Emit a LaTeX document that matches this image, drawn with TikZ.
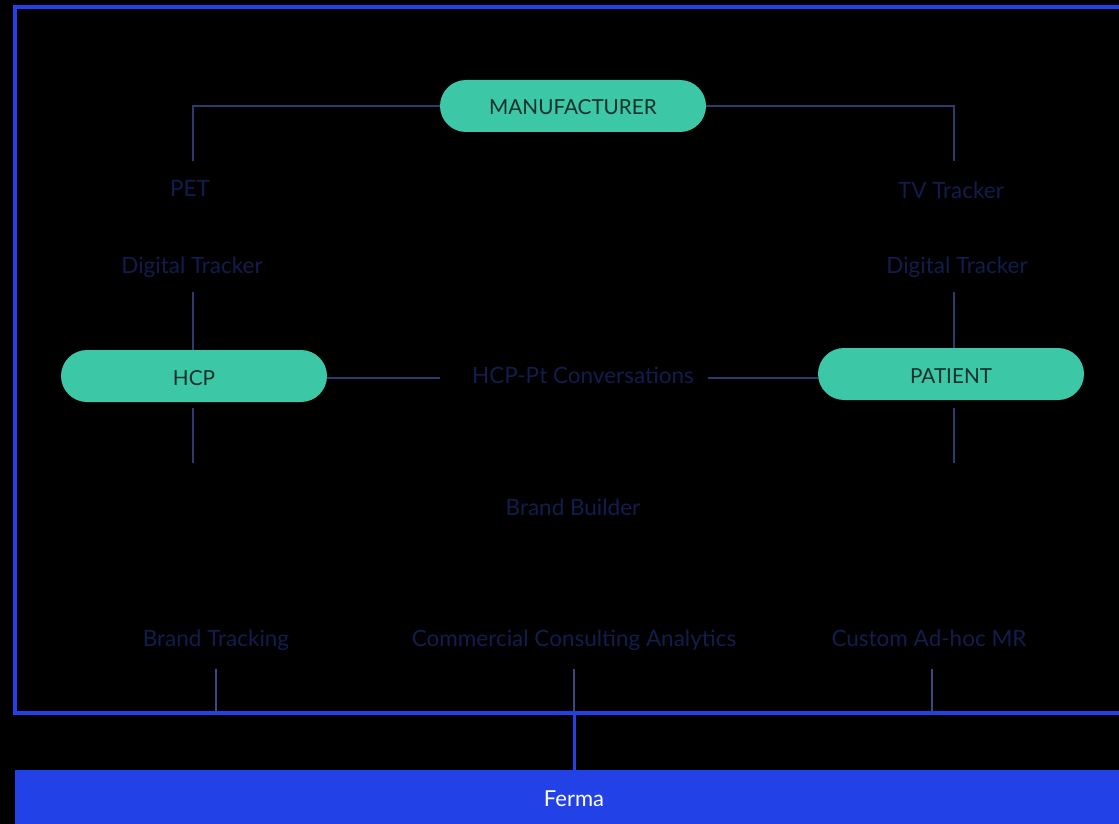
\documentclass[tikz,border=0pt]{standalone}
\usepackage{fontspec}
\setmainfont{Lato}
\usetikzlibrary{positioning}
\definecolor{pillgreen}{HTML}{3CC7A7}
\definecolor{frameblue}{HTML}{2242E8}
\definecolor{linknavy}{HTML}{2C3A6E}
\definecolor{footnavy}{HTML}{3A4780}
\definecolor{labelnavy}{HTML}{111D4D}
\definecolor{pilltext}{HTML}{15302A}

\begin{document}
\begin{tikzpicture}[x = 1pt, y = -1pt,
  pill/.style = {fill = pillgreen, rounded corners = 26pt, minimum width = 266pt, minimum height = 52pt, text height = 21pt, text depth = 3pt, font = \fontsize{20.7}{24}\selectfont, text = pilltext},
  lbl/.style = {minimum height = 54pt, inner sep = 0pt, text height = 19pt, text depth = 3pt, font = \fontsize{22.5}{26}\selectfont, text = labelnavy},
  link/.style = {draw = linknavy, line width = 1.3pt},
  footlink/.style = {draw = footnavy, line width = 1.6pt},
  frameline/.style = {draw = frameblue, line width = 3.5pt}]
\fill[black] (0,0) rectangle (1119,824);
\useasboundingbox (0,0) rectangle (1119,824);

% frame round the panel
\draw[frameline] (1125,7) -- (15,7) -- (15,713) -- (1125,713);

% the three parties
\node[pill] (mfr) at (573,106) {MANUFACTURER};
\node[pill] (hcp) at (194,376) {HCP};
\node[pill] (patient) at (951,374) {PATIENT};

% labels
\node[lbl] (pet) at (190,188) {PET};
\node[lbl] (tv) at (951,190) {TV Tracker};
\node[lbl] (dighcp) at (192,265) {Digital Tracker};
\node[lbl] (digpt) at (957,265) {Digital Tracker};
\node[lbl] (conv) at (583,375) {HCP-Pt Conversations};
\node[lbl] (builder) at (573,507) {Brand Builder};
\node[lbl] (tracking) at (216,638) {Brand Tracking};
\node[lbl] (consult) at (574,638) {Commercial Consulting Analytics};
\node[lbl] (adhoc) at (929,638) {Custom Ad-hoc MR};

\node[fill = frameblue, minimum width = 1118pt, minimum height = 54pt, text height = 21pt, text depth = 3pt, text = white, font = \fontsize{22}{26}\selectfont] (ferma) at (574,797) {Ferma};

\coordinate (hcpfoot) at (193,463);
\coordinate (ptfoot) at (954,463);
\coordinate (trackfoot) at (216,713);
\coordinate (consultfoot) at (574,713);
\coordinate (adhocfoot) at (932,713);

% connectors
\draw[link] (mfr.west) -| (193,161);
\draw[link] (mfr.east) -| (954,161);
\draw[link] (193,292) -- (hcp.north -| 193,0);
\draw[link] (954,292) -- (patient.north -| 954,0);
\draw[link, shorten <= 6pt] (hcp.south -| hcpfoot) -- (hcpfoot);
\draw[link, shorten <= 8pt] (patient.south -| ptfoot) -- (ptfoot);
\draw[link, shorten > = 32pt] (hcp.east |- 0,378) -- (conv.west |- 0,378);
\draw[link, shorten < = 14pt] (conv.east |- 0,378) -- (patient.west |- 0,378);
\draw[footlink, shorten <= 4pt] (tracking.south) -- (trackfoot);
\draw[footlink, shorten <= 4pt] (consult.south) -- (consultfoot);
\draw[footlink, shorten <= 4pt] (adhoc.south -| adhocfoot) -- (adhocfoot);
\draw[frameline, line width = 3pt] (consultfoot) -- (ferma.north);
\end{tikzpicture}
\end{document}
